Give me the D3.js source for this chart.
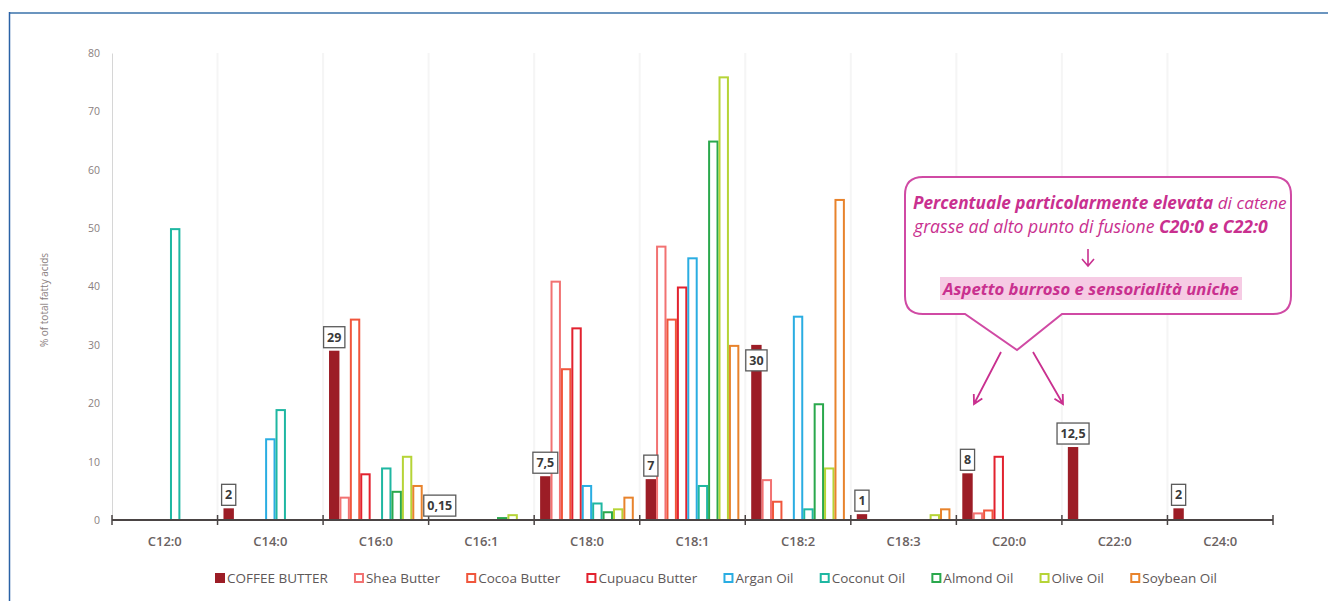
<!DOCTYPE html>
<html><head><meta charset="utf-8">
<script src="https://cdn.jsdelivr.net/npm/d3@7"></script>
<style>html,body{margin:0;padding:0;background:#fff}svg{display:block}</style>
</head><body>
<script>
// ---------- DATA ----------
const categories = ["C12:0","C14:0","C16:0","C16:1","C18:0","C18:1","C18:2","C18:3","C20:0","C22:0","C24:0"];
const seriesNames = ["COFFEE BUTTER","Shea Butter","Cocoa Butter","Cupuacu Butter","Argan Oil","Coconut Oil","Almond Oil","Olive Oil","Soybean Oil"];
const coffeeButter  = [0, 2, 29, 0.15, 7.5, 7, 30, 1, 8, 12.5, 2];
const sheaButter    = [0, 0, 4, 0, 41, 47, 7, 0, 1.3, 0, 0];
const cocoaButter   = [0, 0, 34.5, 0, 26, 34.5, 3.3, 0, 1.8, 0, 0];
const cupuacuButter = [0, 0, 8, 0, 33, 40, 0, 0, 11, 0, 0];
const arganOil      = [0, 14, 0, 0, 6, 45, 35, 0, 0, 0, 0];
const coconutOil    = [50, 19, 9, 0, 3, 6, 2, 0, 0, 0, 0];
const almondOil     = [0, 0, 5, 0.5, 1.5, 65, 20, 0, 0, 0, 0];
const oliveOil      = [0, 0, 11, 1, 2, 76, 9, 1, 0, 0, 0];
const soybeanOil    = [0, 0, 6, 0, 4, 30, 55, 2, 0, 0, 0];
const yTicks = [0,10,20,30,40,50,60,70,80];
const labelInside = ["C18:2"];  // coffee label drawn inside bar top
const yTitle = "% of total fatty acids";
const calloutLine1 = [["Percentuale particolarmente elevata", true], [" di catene", false]];
const calloutLine2 = [["grasse ad alto punto di fusione ", false], ["C20:0 e C22:0", true]];
const calloutLine3 = "Aspetto burroso e sensorialità uniche";

const seriesValues = [coffeeButter, sheaButter, cocoaButter, cupuacuButter, arganOil, coconutOil, almondOil, oliveOil, soybeanOil];
const colors = ["#9c1d26","#f27272","#f0563c","#e2222f","#2aade2","#1fb7a2","#2aa84c","#b6d437","#e8832c"];

// ---------- SETUP ----------
const W = 1328, H = 601;
const svg = d3.select("body").append("svg").attr("width", W).attr("height", H);
svg.append("rect").attr("width", W).attr("height", H).attr("fill", "#fff");

const x0 = d3.scaleBand().domain(categories).range([112, 1273]).padding(0);
const x1 = d3.scaleBand().domain(seriesNames).range([0, x0.bandwidth()]).paddingInner(0).paddingOuter(0.57);
const y = d3.scaleLinear().domain([0, 80]).range([520, 53]);

// frame
svg.append("line").attr("x1", 9).attr("x2", W).attr("y1", 13).attr("y2", 13).attr("stroke", "#6b95bf").attr("stroke-width", 2);
svg.append("line").attr("x1", 9.5).attr("x2", 9.5).attr("y1", 12).attr("y2", H).attr("stroke", "#2a62a6").attr("stroke-width", 1.5);

// faint vertical gridlines
svg.append("g").selectAll("line").data(categories.slice(1)).join("line")
  .attr("x1", d => x0(d)).attr("x2", d => x0(d)).attr("y1", y(80)).attr("y2", y(0))
  .attr("stroke", "#f5f5f5").attr("stroke-width", 2);

// y axis
const yAxis = d3.axisLeft(y).tickValues(yTicks).tickSize(0).tickPadding(12);
const gy = svg.append("g").attr("transform", "translate(112,0)").call(yAxis);
gy.select(".domain").attr("stroke", "#d6d6d6").attr("stroke-width", 1);
gy.selectAll("text").attr("font-family", "Open Sans").attr("font-size", 10.5).attr("fill", "#8a8080");

svg.append("text").attr("transform", "translate(48,300) rotate(-90)")
  .attr("text-anchor", "middle").attr("font-family", "Open Sans").attr("font-size", 10)
  .attr("fill", "#8a8080").text(yTitle);

// ---------- BARS ----------
const sw = 2;
const groups = svg.append("g").selectAll("g").data(categories).join("g")
  .attr("transform", d => `translate(${x0(d)},0)`);

groups.each(function(cat, ci) {
  const g = d3.select(this);
  seriesNames.forEach((s, si) => {
    const v = seriesValues[si][ci];
    if (!v) return;
    const bx = x1(s), bw = x1.bandwidth();
    if (si === 0) {
      g.append("rect").attr("x", bx).attr("y", y(v)).attr("width", bw).attr("height", y(0) - y(v))
        .attr("fill", colors[0]);
    } else {
      const h = y(0) - y(v);
      g.append("rect").attr("x", bx + sw/2).attr("y", y(v) + sw/2)
        .attr("width", bw - sw).attr("height", Math.max(0.5, h - sw/2))
        .attr("fill", "#fff").attr("stroke", colors[si]).attr("stroke-width", sw);
    }
  });
});

// x axis
const xAxisY = y(0);
svg.append("line").attr("x1", 112).attr("x2", 1273).attr("y1", xAxisY).attr("y2", xAxisY)
  .attr("stroke", "#4a4444").attr("stroke-width", 2);
const bounds = categories.map(c => x0(c)).concat([x0.range()[1]]);
svg.append("g").selectAll("line").data(bounds).join("line")
  .attr("x1", d => d).attr("x2", d => d).attr("y1", xAxisY - 5).attr("y2", xAxisY + 5)
  .attr("stroke", "#4a4444").attr("stroke-width", 1.5);
svg.append("g").selectAll("text").data(categories).join("text")
  .attr("x", d => x0(d) + x0.bandwidth()/2).attr("y", 546)
  .attr("text-anchor", "middle").attr("font-family", "Open Sans").attr("font-weight", 600)
  .attr("font-size", 13).attr("fill", "#6a6262").text(d => d);

// coffee labels
const lab = svg.append("g");
categories.forEach((cat, ci) => {
  const v = coffeeButter[ci];
  if (!v) return;
  const cx = x0(cat) + x1(seriesNames[0]) + x1.bandwidth()/2;
  const str = String(v).replace(".", ",");
  const t = lab.append("text").attr("font-family", "Open Sans").attr("font-weight", 700)
    .attr("font-size", 12.5).attr("fill", "#3a3a3a").attr("text-anchor", "middle").text(str);
  const tw = t.node().getComputedTextLength();
  const bh = 21, bwid = tw + 7;
  const inside = labelInside.includes(cat);
  const top = inside ? y(v) + 5 : y(v) - 3 - bh;
  lab.insert("rect", "text").attr("x", cx - bwid/2).attr("y", top).attr("width", bwid).attr("height", bh)
    .attr("fill", "#fff").attr("stroke", "#5a5a5a").attr("stroke-width", 1.3);
  t.attr("x", cx).attr("y", top + 15);
});

// ---------- LEGEND ----------
const leg = svg.append("g");
const legStart = 215, legEnd = 1217;
const legItems = seriesNames.map((s, i) => {
  const gi = leg.append("g");
  if (i === 0) gi.append("rect").attr("x", 0).attr("y", -5).attr("width", 10).attr("height", 10).attr("fill", colors[0]);
  else gi.append("rect").attr("x", 1).attr("y", -4).attr("width", 8).attr("height", 8).attr("fill", "#fff").attr("stroke", colors[i]).attr("stroke-width", 2);
  const t = gi.append("text").attr("x", 12).attr("y", 5).attr("font-family", "Open Sans").attr("font-size", 13.5)
    .attr("fill", "#5e5858").text(s);
  return { g: gi, w: 12 + t.node().getComputedTextLength() };
});
const totalW = d3.sum(legItems, d => d.w);
const gap = (legEnd - legStart - totalW) / (legItems.length - 1);
let lx = legStart;
legItems.forEach(it => { it.g.attr("transform", `translate(${lx},578)`); lx += it.w + gap; });

// ---------- CALLOUT ----------
const mag = "#c9308f";
const bL = 905, bT = 177, bR = 1291, bB = 314, r = 18;
const pL = 965, pR = 1062, apX = 1017, apY = 350;
const bubble = `M${bL + r},${bT} H${bR - r} Q${bR},${bT} ${bR},${bT + r} V${bB - r} Q${bR},${bB} ${bR - r},${bB}
 H${pR} L${apX},${apY} L${pL},${bB} H${bL + r} Q${bL},${bB} ${bL},${bB - r} V${bT + r} Q${bL},${bT} ${bL + r},${bT} Z`;
svg.append("path").attr("d", bubble).attr("fill", "#fff").attr("stroke", "#d04aa4").attr("stroke-width", 2);

function richLine(parts, xLeft, baseY, targetW) {
  const t = svg.append("text").attr("x", xLeft).attr("y", baseY).attr("font-family", "Open Sans")
    .attr("font-style", "italic").attr("font-size", 15).attr("fill", mag);
  parts.forEach(([s, b]) => t.append("tspan").attr("font-weight", b ? 700 : 400).text(s));
  const w = t.node().getComputedTextLength();
  t.attr("font-size", 15 * targetW / w);
  return t;
}
richLine(calloutLine1, 913, 209, 374);
richLine(calloutLine2, 914, 233, 354);

// down arrow
svg.append("path").attr("d", "M1088,249 V266 M1082,259 L1088,266 L1094,259")
  .attr("fill", "none").attr("stroke", mag).attr("stroke-width", 1.6);

// highlight + line 3
svg.append("rect").attr("x", 940).attr("y", 277).attr("width", 302).attr("height", 23).attr("fill", "#f6cbe4");
const t3 = svg.append("text").attr("x", 1091).attr("y", 295).attr("text-anchor", "middle")
  .attr("font-family", "Open Sans").attr("font-style", "italic").attr("font-weight", 700)
  .attr("font-size", 15).attr("fill", mag).text(calloutLine3);
const w3 = t3.node().getComputedTextLength();
t3.attr("font-size", 15 * 296 / w3);

// arrows to bars
function arrow(xa, ya, xb, yb) {
  const ang = Math.atan2(yb - ya, xb - xa), L = 10, sp = 0.5;
  const a1 = [xb - L * Math.cos(ang - sp), yb - L * Math.sin(ang - sp)];
  const a2 = [xb - L * Math.cos(ang + sp), yb - L * Math.sin(ang + sp)];
  svg.append("path").attr("d", `M${xa},${ya} L${xb},${yb} M${a1[0]},${a1[1]} L${xb},${yb} L${a2[0]},${a2[1]}`)
    .attr("fill", "none").attr("stroke", mag).attr("stroke-width", 1.8);
}
arrow(1001, 352, 974, 404);
arrow(1033, 352, 1063, 404);
</script>
</body></html>
